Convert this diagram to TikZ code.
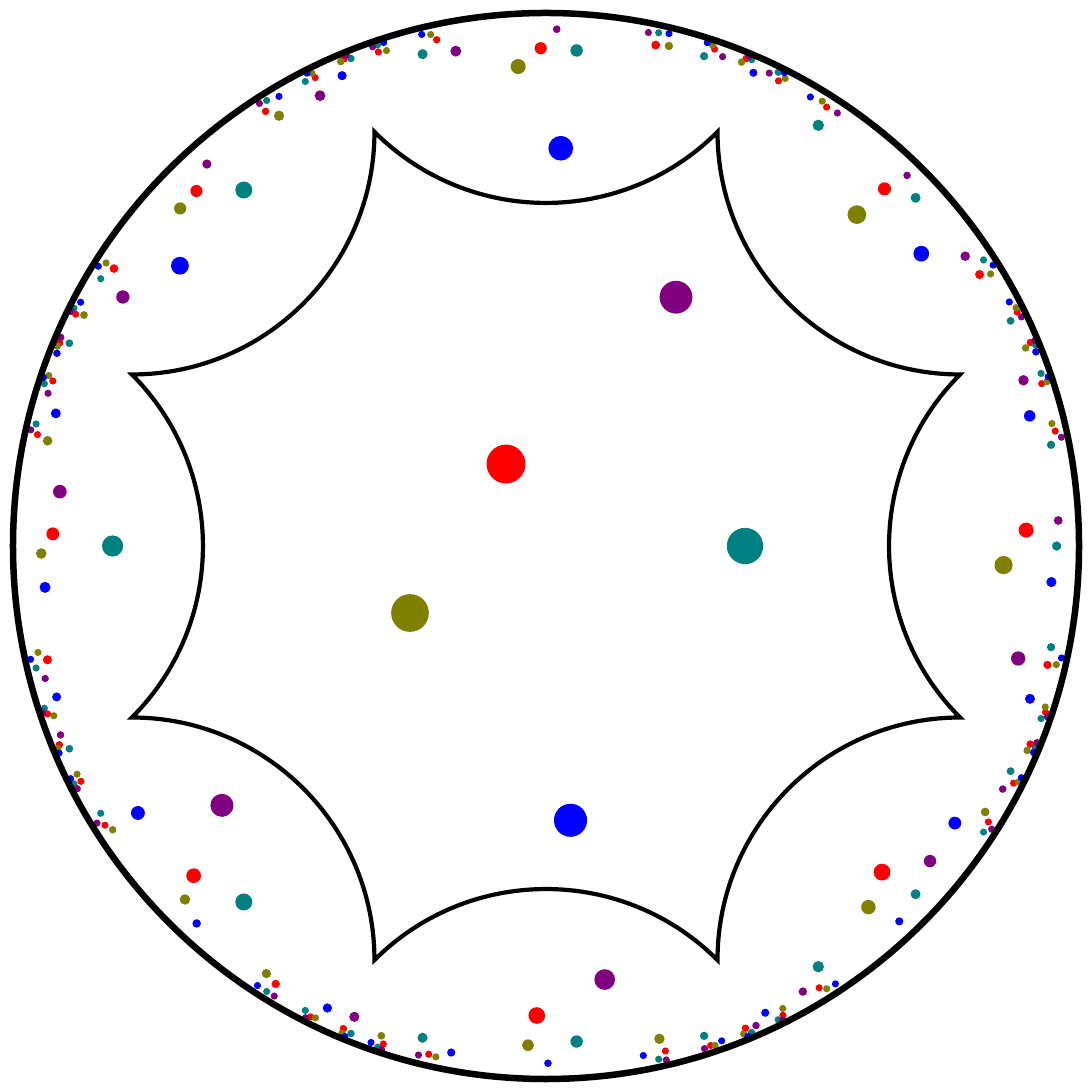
\documentclass[tikz,border=0pt]{standalone}
\usepackage{tikz}
\usepackage{xcolor}
\definecolor{dotred}{RGB}{255,0,0}
\definecolor{dotteal}{RGB}{0,128,128}
\definecolor{dotolive}{RGB}{128,128,0}
\definecolor{dotblue}{RGB}{0,0,255}
\definecolor{dotpurple}{RGB}{128,0,128}

\newcommand{\basepts}{-0.0750/0.1538/dotred, 0.3734/0/dotteal, -0.2552/-0.1257/dotolive, 0.0460/-0.5146/dotblue, 0.2439/0.4668/dotpurple}
\newcommand{\stepc}{2.41421}
\newcommand{\steps}{2.19737}
\newcommand{\cutoff}{45}

\newcommand{\turn}[5]{%
  \pgfmathsetmacro\cs{cos(#1)}\pgfmathsetmacro\sn{sin(#1)}%
  \pgfmathsetmacro\nar{\stepc*(#2)+\steps*((#4)*\cs+(#5)*\sn)}%
  \pgfmathsetmacro\nai{\stepc*(#3)+\steps*((#5)*\cs-(#4)*\sn)}%
  \pgfmathsetmacro\nbr{\stepc*(#4)+\steps*((#2)*\cs-(#3)*\sn)}%
  \pgfmathsetmacro\nbi{\stepc*(#5)+\steps*((#3)*\cs+(#2)*\sn)}%
  \pgfmathtruncatemacro\keep{\nar*\nar+\nai*\nai<\cutoff}}
\newcommand{\orbitdot}[3]{%
  \pgfmathsetmacro\dotr{max(0.00675,0.03715*pow(max(1-(#2)*(#2)-(#3)*(#3),0.00001),0.58))}%
  \fill[#1] (#2,#3) circle[radius=\dotr];}
\newcommand{\tiledots}[4]{%
  \foreach \bx/\by/\col in \basepts {
    \pgfmathsetmacro\uA{(#1)*(\bx)-(#2)*(\by)+(#3)}
    \pgfmathsetmacro\uB{(#1)*(\by)+(#2)*(\bx)+(#4)}
    \pgfmathsetmacro\uC{(#3)*(\bx)+(#4)*(\by)+(#1)}
    \pgfmathsetmacro\uE{(#3)*(\by)-(#4)*(\bx)-(#2)}
    \pgfmathsetmacro\uD{\uC*\uC+\uE*\uE}
    \pgfmathsetmacro\ux{(\uA*\uC+\uB*\uE)/\uD}
    \pgfmathsetmacro\uy{(\uB*\uC-\uA*\uE)/\uD}
    \orbitdot{\col}{\ux}{\uy}
  }}

\begin{document}
\begin{tikzpicture}[x=5.33cm, y=5.33cm,
    rim/.style={line width=0.065cm},
    sideline/.style={line width=0.042cm}]
    \useasboundingbox (-5.46cm,-5.46cm) rectangle (5.46cm,5.46cm);

    \tiledots{1}{0}{0}{0}
    \foreach \dirA in {0,...,7} {
        \turn{45*\dirA}{1}{0}{0}{0}
        \let\arA\nar \let\aiA\nai \let\brA\nbr \let\biA\nbi
        \tiledots{\arA}{\aiA}{\brA}{\biA}
        \pgfmathtruncatemacro\backA{mod(\dirA+4,8)}
        \foreach \dirB in {0,...,7} {
            \ifnum\dirB=\backA\else
            \turn{45*\dirB}{\arA}{\aiA}{\brA}{\biA}
            \ifnum\keep=1
                \let\arB\nar \let\aiB\nai \let\brB\nbr \let\biB\nbi
                \tiledots{\arB}{\aiB}{\brB}{\biB}
                \pgfmathtruncatemacro\backB{mod(\dirB+4,8)}
                \foreach \dirC in {0,...,7} {
                    \ifnum\dirC=\backB\else
                    \turn{45*\dirC}{\arB}{\aiB}{\brB}{\biB}
                    \ifnum\keep=1
                        \let\arC\nar \let\aiC\nai \let\brC\nbr \let\biC\nbi
                        \tiledots{\arC}{\aiC}{\brC}{\biC}
                        \pgfmathtruncatemacro\backC{mod(\dirC+4,8)}
                        \foreach \dirD in {0,...,7} {
                            \ifnum\dirD=\backC\else
                            \turn{45*\dirD}{\arC}{\aiC}{\brC}{\biC}
                            \ifnum\keep=1
                                \tiledots{\nar}{\nai}{\nbr}{\nbi}
                            \fi
                            \fi
                        }
                    \fi
                    \fi
                }
            \fi
            \fi
        }
    }

    \draw[sideline] (-22.5:0.8409)
        \foreach \t in {0,45,...,315} {arc[start angle=\t+225, end angle=\t+135, radius=0.4551]} -- cycle;

    \draw[rim] (0,0) circle[radius=1];
\end{tikzpicture}
\end{document}
